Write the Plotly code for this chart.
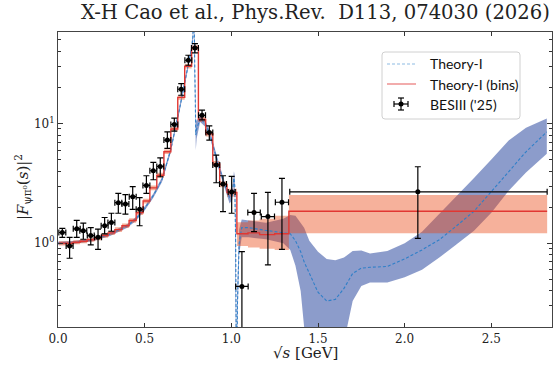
import plotly.graph_objects as go

# ---------------- data ----------------
# BESIII ('25) points
bes_x = [0.025, 0.067, 0.108, 0.146, 0.189, 0.231, 0.269, 0.308, 0.348, 0.389,
         0.431, 0.471, 0.510, 0.550, 0.590, 0.631, 0.671, 0.711, 0.752, 0.790,
         0.831, 0.873, 0.913, 0.952, 1.002, 1.061, 1.131, 1.211, 1.292, 2.076]
bes_y = [1.23, 0.95, 1.32, 1.27, 1.16, 1.12, 1.40, 1.49, 2.18, 2.13,
         2.45, 1.92, 3.04, 4.03, 4.38, 7.26, 9.81, 19.3, 33.7, 42.7,
         11.7, 8.41, 4.50, 3.12, 2.68, 0.436, 1.81, 1.67, 2.20, 2.69]
bes_top = [1.33, 1.12, 1.55, 1.47, 1.35, 1.31, 1.64, 1.78, 2.61, 2.55,
           2.97, 2.40, 3.66, 4.73, 5.17, 8.52, 11.1, 21.5, 37.1, 46.4,
           12.9, 9.56, 5.45, 3.66, 3.62, 0.85, 2.61, 2.66, 3.48, 4.35]
bes_bot = [1.12, 0.75, 1.12, 1.08, 0.97, 0.89, 1.20, 1.26, 1.78, 1.75,
           1.92, 1.40, 2.61, 3.39, 3.59, 6.19, 8.63, 17.2, 30.6, 38.8,
           10.7, 7.26, 3.20, 1.84, 1.78, 0.01, 1.25, 0.66, 0.89, 1.10]
bes_xlo = [0.005, 0.047, 0.088, 0.126, 0.169, 0.211, 0.249, 0.288, 0.328, 0.369,
           0.411, 0.451, 0.490, 0.530, 0.570, 0.611, 0.651, 0.691, 0.732, 0.770,
           0.811, 0.853, 0.893, 0.932, 0.982, 1.025, 1.095, 1.173, 1.254, 1.337]
bes_xhi = [0.045, 0.087, 0.128, 0.166, 0.209, 0.251, 0.289, 0.328, 0.368, 0.409,
           0.451, 0.491, 0.530, 0.570, 0.610, 0.651, 0.691, 0.731, 0.772, 0.810,
           0.851, 0.893, 0.933, 0.972, 1.022, 1.097, 1.167, 1.249, 1.330, 2.822]

# Theory-I (bins)
red_edges = [0.005, 0.046, 0.088, 0.127, 0.168, 0.210, 0.250, 0.289, 0.328, 0.369,
             0.410, 0.451, 0.491, 0.530, 0.570, 0.611, 0.651, 0.691, 0.731, 0.771,
             0.810, 0.852, 0.893, 0.933, 0.975, 1.032, 1.096, 1.163, 1.250, 1.332, 2.822]
red_val = [1.00, 1.00, 1.02, 1.04, 1.07, 1.10, 1.16, 1.22, 1.30, 1.40,
           1.55, 1.80, 2.25, 2.90, 3.70, 5.80, 9.00, 16.5, 30.0, 43.0,
           10.8, 8.20, 4.60, 3.10, 2.65, 1.20, 1.22, 1.18, 1.20, 1.85]
red_lo = [0.96, 0.96, 0.98, 1.00, 1.03, 1.06, 1.11, 1.17, 1.24, 1.34,
          1.48, 1.72, 2.15, 2.77, 3.53, 5.55, 8.60, 15.8, 28.7, 41.1,
          10.3, 7.80, 4.35, 2.93, 2.45, 0.95, 0.92, 0.90, 0.88, 1.21]
red_hi = [1.04, 1.04, 1.06, 1.08, 1.11, 1.14, 1.21, 1.27, 1.36, 1.46,
          1.62, 1.88, 2.35, 3.03, 3.87, 6.05, 9.40, 17.2, 31.3, 45.0,
          11.3, 8.60, 4.85, 3.27, 2.85, 1.50, 1.55, 1.60, 1.70, 2.53]

# Theory-I curve with band
th_x = [0.0, 0.1, 0.2, 0.3, 0.4, 0.45, 0.5, 0.55, 0.6, 0.65,
        0.7, 0.73, 0.75, 0.77, 0.778, 0.782, 0.786, 0.79, 0.795, 0.80,
        0.82, 0.85, 0.88, 0.92, 0.96, 0.99, 1.005, 1.015, 1.02, 1.025,
        1.03, 1.035, 1.045, 1.06, 1.1, 1.2, 1.3, 1.34, 1.37, 1.4,
        1.42, 1.45, 1.5, 1.55, 1.6, 1.65, 1.68, 1.7, 1.75, 1.8,
        1.9, 2.0, 2.1, 2.2, 2.3, 2.4, 2.5, 2.6, 2.7, 2.82]
th_y = [1.00, 1.02, 1.07, 1.19, 1.40, 1.60, 1.95, 2.50, 3.40, 6.00,
        13.0, 21.0, 30.0, 42.0, 52.0, 90.0, 60.0, 20.0, 8.00, 9.00,
        11.0, 10.0, 7.80, 4.80, 3.10, 2.40, 2.50, 3.50, 3.00, 1.00,
        0.05, 0.30, 1.00, 1.35, 1.35, 1.28, 1.23, 1.20, 1.05, 0.85,
        0.70, 0.56, 0.39, 0.33, 0.34, 0.42, 0.50, 0.56, 0.62, 0.63,
        0.64, 0.74, 0.88, 1.07, 1.40, 1.85, 2.70, 4.00, 5.80, 8.50]
th_lo = [0.97, 0.99, 1.04, 1.15, 1.35, 1.54, 1.88, 2.40, 3.25, 5.70,
         12.3, 20.0, 28.5, 40.0, 48.0, 70.0, 40.0, 12.0, 6.00, 7.50,
         10.3, 9.40, 7.30, 4.45, 2.90, 2.15, 2.30, 3.10, 2.50, 0.70,
         0.02, 0.20, 0.80, 1.12, 1.12, 1.08, 1.00, 0.88, 0.65, 0.40,
         0.20, 0.10, 0.05, 0.05, 0.05, 0.15, 0.25, 0.33, 0.44, 0.47,
         0.47, 0.52, 0.60, 0.76, 0.98, 1.27, 1.80, 2.75, 3.90, 5.60]
th_hi = [1.03, 1.05, 1.10, 1.23, 1.45, 1.66, 2.03, 2.60, 3.55, 6.30,
         13.7, 22.0, 31.5, 44.0, 58.0, 110.0, 80.0, 30.0, 11.0, 10.5,
         11.7, 10.6, 8.30, 5.15, 3.30, 2.60, 2.80, 4.00, 3.60, 1.50,
         0.10, 0.45, 1.30, 1.58, 1.55, 1.48, 1.60, 1.72, 1.70, 1.50,
         1.35, 1.05, 0.85, 0.74, 0.72, 0.76, 0.82, 0.86, 0.87, 0.82,
         0.86, 1.00, 1.25, 1.75, 2.50, 3.50, 5.00, 7.20, 9.20, 11.0]

x_ticks = [0.0, 0.5, 1.0, 1.5, 2.0, 2.5]
x_ticklabels = ["0.0", "0.5", "1.0", "1.5", "2.0", "2.5"]
y_ticks = [1, 10]
y_ticklabels = ["10<sup>0</sup>", "10<sup>1</sup>"]
y_minor = [0.2, 0.3, 0.4, 0.5, 0.6, 0.7, 0.8, 0.9, 2, 3, 4, 5, 6, 7, 8, 9, 20, 30, 40, 50]

title_text = "X-H Cao et al., Phys.Rev.  D113, 074030 (2026)"
legend_labels = ["Theory-I", "Theory-I (bins)", "BESIII ('25)"]

# ---------------- styles ----------------
W, H = 556, 366
ML, MR, MT, MB = 58, 4, 32, 39
BLUE_LINE = "#2f7fc8"
BLUE_FILL = "rgba(45,75,160,0.55)"
RED_LINE = "rgb(225,55,50)"
RED_FILL = "rgba(233,70,16,0.42)"
SERIF = "DejaVu Serif"
SANS = "Lato"

fig = go.Figure()

# theory band
fig.add_trace(go.Scatter(x=th_x, y=th_lo, mode="lines", line=dict(width=0),
                         hoverinfo="skip", showlegend=False))
fig.add_trace(go.Scatter(x=th_x, y=th_hi, mode="lines", line=dict(width=0),
                         fill="tonexty", fillcolor=BLUE_FILL,
                         hoverinfo="skip", showlegend=False))

# bins band
red_lo_s = red_lo + [red_lo[-1]]
red_hi_s = red_hi + [red_hi[-1]]
red_val_s = red_val + [red_val[-1]]
fig.add_trace(go.Scatter(x=red_edges, y=red_lo_s, mode="lines", line=dict(width=0, shape="hv"),
                         hoverinfo="skip", showlegend=False))
fig.add_trace(go.Scatter(x=red_edges, y=red_hi_s, mode="lines", line=dict(width=0, shape="hv"),
                         fill="tonexty", fillcolor=RED_FILL,
                         hoverinfo="skip", showlegend=False))

# theory curve
fig.add_trace(go.Scatter(x=th_x, y=th_y, mode="lines",
                         line=dict(color=BLUE_LINE, width=1.1, dash="3px,2px"),
                         showlegend=False))
# bins line
fig.add_trace(go.Scatter(x=red_edges, y=red_val_s, mode="lines",
                         line=dict(color=RED_LINE, width=1.4, shape="hv"),
                         showlegend=False))

# data
fig.add_trace(go.Scatter(
    x=bes_x, y=bes_y, mode="markers",
    marker=dict(color="black", size=5),
    error_y=dict(type="data", symmetric=False,
                 array=[t - y for t, y in zip(bes_top, bes_y)],
                 arrayminus=[y - b for y, b in zip(bes_y, bes_bot)],
                 color="black", thickness=1.2, width=3),
    error_x=dict(type="data", symmetric=False,
                 array=[h - x for h, x in zip(bes_xhi, bes_x)],
                 arrayminus=[x - l for x, l in zip(bes_x, bes_xlo)],
                 color="black", thickness=1.2, width=3),
    showlegend=False))

# ---------------- legend (manual) ----------------
pw, ph = W - ML - MR, H - MT - MB
def px(p):
    return (p - ML) / pw
def py(p):
    return (H - MB - p) / ph

shapes = []
bx0, bx1, by0, by1 = 382, 520, 52, 119
r = 3
path = (f"M {px(bx0 + r)},{py(by0)} L {px(bx1 - r)},{py(by0)} "
        f"Q {px(bx1)},{py(by0)} {px(bx1)},{py(by0 + r)} "
        f"L {px(bx1)},{py(by1 - r)} Q {px(bx1)},{py(by1)} {px(bx1 - r)},{py(by1)} "
        f"L {px(bx0 + r)},{py(by1)} Q {px(bx0)},{py(by1)} {px(bx0)},{py(by1 - r)} "
        f"L {px(bx0)},{py(by0 + r)} Q {px(bx0)},{py(by0)} {px(bx0 + r)},{py(by0)} Z")
shapes.append(dict(type="path", path=path, xref="paper", yref="paper",
                   fillcolor="rgba(255,255,255,0.85)", line=dict(color="#d0d0d0", width=1)))
rows = [64, 84, 104]
shapes.append(dict(type="line", xref="paper", yref="paper",
                   x0=px(387), x1=px(416), y0=py(rows[0]), y1=py(rows[0]),
                   line=dict(color="#8dbbe3", width=1.2, dash="3px,2px")))
shapes.append(dict(type="line", xref="paper", yref="paper",
                   x0=px(387), x1=px(416), y0=py(rows[1]), y1=py(rows[1]),
                   line=dict(color="#ee9090", width=1.5)))
cx, cy = 401, rows[2]
for (a, b, c, d) in [(cx - 7, cy, cx + 7, cy), (cx, cy - 6, cx, cy + 6),
                     (cx - 7, cy - 3, cx - 7, cy + 3), (cx + 7, cy - 3, cx + 7, cy + 3),
                     (cx - 3, cy - 6, cx + 3, cy - 6), (cx - 3, cy + 6, cx + 3, cy + 6)]:
    shapes.append(dict(type="line", xref="paper", yref="paper",
                       x0=px(a), y0=py(b), x1=px(c), y1=py(d),
                       line=dict(color="black", width=1.2)))
shapes.append(dict(type="circle", xref="paper", yref="paper",
                   x0=px(cx - 2.5), x1=px(cx + 2.5), y0=py(cy - 2.5), y1=py(cy + 2.5),
                   fillcolor="black", line=dict(color="black", width=0)))

annotations = []
for lab, ry in zip(legend_labels, rows):
    annotations.append(dict(text=lab, xref="paper", yref="paper", x=px(428), y=py(ry),
                            xanchor="left", yanchor="middle", showarrow=False,
                            font=dict(family=SANS, size=14, color="#111")))

# title
annotations.append(dict(text=title_text, xref="paper", yref="paper",
                        x=px(552), y=py(13), xanchor="right", yanchor="middle",
                        showarrow=False, font=dict(family=SERIF, size=19.6, color="#222")))
# y-axis title
annotations.append(dict(text="|<i>F</i><sub>ψπ⁰</sub>(<i>s</i>)|<sup>2</sup>",
                        xref="paper", yref="paper", x=px(23), y=py(187),
                        xanchor="center", yanchor="middle", textangle=-90, showarrow=False,
                        font=dict(family=SERIF, size=15, color="#222")))
# x-axis title
annotations.append(dict(text="√<i>s</i> [GeV]", xref="paper", yref="paper",
                        x=px(305), y=py(353), xanchor="center", yanchor="middle",
                        showarrow=False, font=dict(family=SERIF, size=15, color="#222")))

fig.update_layout(
    width=W, height=H,
    margin=dict(l=ML, r=MR, t=MT, b=MB),
    plot_bgcolor="white", paper_bgcolor="white",
    shapes=shapes, annotations=annotations,
    showlegend=False,
)
fig.update_xaxes(range=[0, 2.85], tickvals=x_ticks, ticktext=x_ticklabels,
                 ticks="inside", ticklen=4, tickwidth=1, tickcolor="#333",
                 showline=True, linecolor="#444", linewidth=1.2, mirror="ticks",
                 showgrid=False, zeroline=False,
                 tickfont=dict(family=SERIF, size=12, color="#222"))
fig.update_yaxes(type="log", range=[-0.69897, 1.763428],
                 tickvals=y_ticks, ticktext=y_ticklabels,
                 ticks="inside", ticklen=5, tickwidth=1, tickcolor="#333",
                 minor=dict(tickvals=y_minor, ticks="inside", ticklen=2.5, tickcolor="#333"),
                 showline=True, linecolor="#444", linewidth=1.2, mirror="ticks",
                 showgrid=False, zeroline=False,
                 tickfont=dict(family=SERIF, size=12, color="#222"))

fig.write_html("out.html", config={"displayModeBar": False},
               post_script="document.body.style.margin='0';")
